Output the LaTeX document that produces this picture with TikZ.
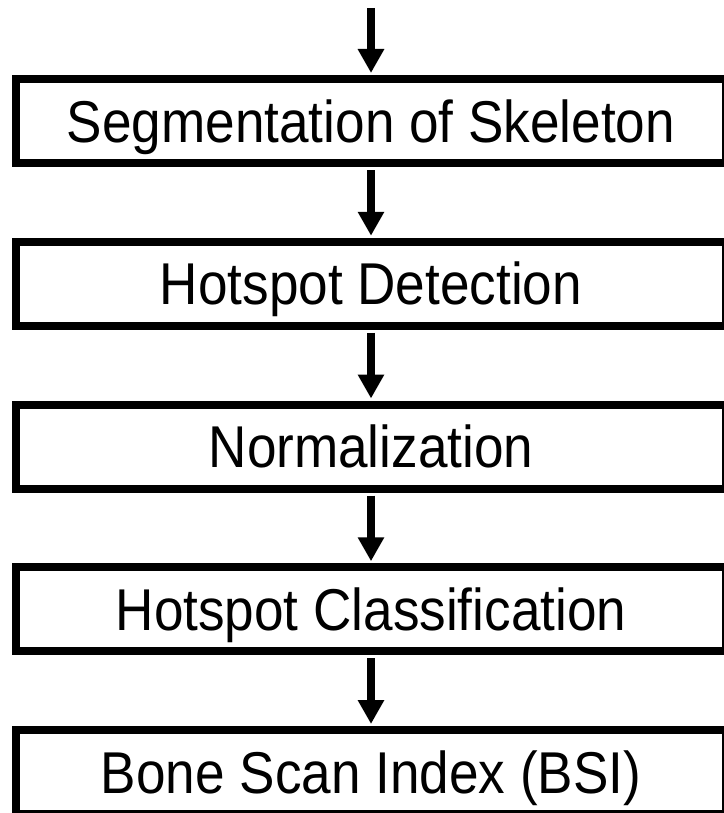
\documentclass[tikz,border=0pt]{standalone}
\usepackage{fontspec}
\setmainfont[FakeStretch=0.9]{Liberation Sans}
\usetikzlibrary{arrows.meta}
\begin{document}
\begin{tikzpicture}[x=1bp,y=-1bp,
  stage/.style={draw=black, line width=8bp, minimum width=710bp, minimum height=84bp,
    inner sep=0pt, text height=42bp, text depth=0bp,
    font=\fontsize{59bp}{64bp}\selectfont},
  flow/.style={line width=8bp, -{Triangle[length=24bp,width=25bp]}}]
  \useasboundingbox (0,0) rectangle (724,813);
  % five processing stages, stacked top to bottom
  \node[stage] (s1) at (371,121)    {Segmentation of Skeleton};
  \node[stage] (s2) at (371,283.75) {Hotspot Detection};
  \node[stage] (s3) at (371,446.5)  {Normalization};
  \node[stage] (s4) at (371,609.25) {Hotspot Classification};
  \node[stage] (s5) at (371,772)    {Bone Scan Index (BSI)};
  % incoming arrow and the arrows between stages
  \coordinate (in) at (371,8);
  \draw[flow] (in) -- ([yshift=2bp]s1.north);
  \draw[flow] ([yshift=-3bp]s1.south) -- ([yshift=2bp]s2.north);
  \draw[flow] ([yshift=-3bp]s2.south) -- ([yshift=2bp]s3.north);
  \draw[flow] ([yshift=-3bp]s3.south) -- ([yshift=2bp]s4.north);
  \draw[flow] ([yshift=-3bp]s4.south) -- ([yshift=2bp]s5.north);
\end{tikzpicture}
\end{document}
